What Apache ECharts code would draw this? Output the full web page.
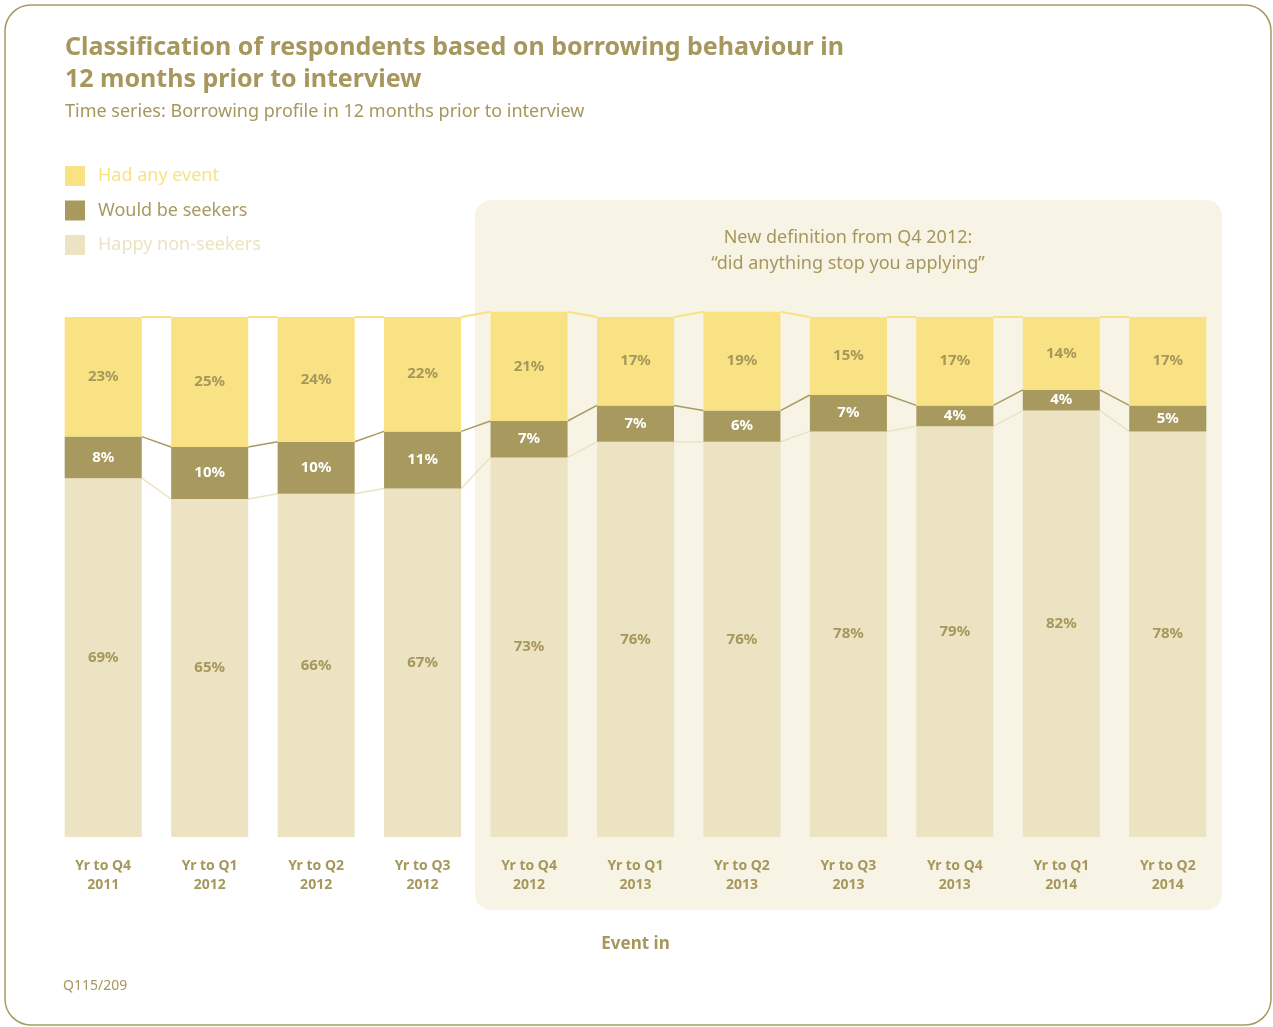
<!DOCTYPE html>
<html>
<head>
<meta charset="utf-8">
<script src="https://cdn.jsdelivr.net/npm/echarts@6/dist/echarts.min.js"></script>
<style>
html,body{margin:0;padding:0;background:#fff;}
#chart{width:1273px;height:1027px;}
</style>
</head>
<body>
<div id="chart"></div>
<script>
var categories = ['Yr to Q4\n2011','Yr to Q1\n2012','Yr to Q2\n2012','Yr to Q3\n2012','Yr to Q4\n2012','Yr to Q1\n2013','Yr to Q2\n2013','Yr to Q3\n2013','Yr to Q4\n2013','Yr to Q1\n2014','Yr to Q2\n2014'];
var happyNonSeekers = [69,65,66,67,73,76,76,78,79,82,78];
var wouldBeSeekers = [8,10,10,11,7,7,6,7,4,4,5];
var hadAnyEvent = [23,25,24,22,21,17,19,15,17,14,17];

var FONT = '"Noto Sans", "Open Sans", sans-serif';
var OLIVE = '#a89a5f';
var YELLOW = '#f9e283';
var BEIGE = '#ebe3c1';
var TEXT = '#a6975c';

var level1 = happyNonSeekers.slice();
var level2 = happyNonSeekers.map(function(v,i){return v + wouldBeSeekers[i];});
var level3 = level2.map(function(v,i){return v + hadAnyEvent[i];});

function segData(levels){
  var d = [];
  for (var i = 0; i < levels.length - 1; i++) d.push([i, levels[i], levels[i+1]]);
  return d;
}
var BAR_FRAC = 0.724;
function connector(name, levels, color, width){
  return {
    type: 'custom', name: name + ' line', z: 1, silent: true,
    data: segData(levels),
    encode: {x: 0, y: 1},
    renderItem: function(params, api){
      var i = api.value(0);
      var p1 = api.coord([i, api.value(1)]);
      var p2 = api.coord([i + 1, api.value(2)]);
      var half = api.size([1, 0])[0] * BAR_FRAC / 2;
      return {
        type: 'line',
        shape: {x1: p1[0] + half, y1: p1[1], x2: p2[0] - half, y2: p2[1]},
        style: {stroke: color, lineWidth: width, fill: null}
      };
    }
  };
}

var chart = echarts.init(document.getElementById('chart'));
var labelBase = {show: true, position: 'inside', formatter: '{c}%', fontFamily: FONT, fontWeight: 'bold', fontSize: 15};
chart.setOption({
  animation: false,
  backgroundColor: '#fff',
  title: {
    text: 'Classification of respondents based on borrowing behaviour in\n12 months prior to interview',
    subtext: 'Time series: Borrowing profile in 12 months prior to interview',
    left: 60, top: 27, itemGap: 7,
    textStyle: {fontFamily: FONT, fontWeight: 'bold', fontSize: 25, lineHeight: 32, color: TEXT},
    subtextStyle: {fontFamily: FONT, fontSize: 18, color: TEXT}
  },
  legend: {
    orient: 'vertical', left: 60, top: 161, itemWidth: 20, itemHeight: 20, itemGap: 14.5,
    icon: 'rect', selectedMode: false,
    textStyle: {fontFamily: FONT, fontSize: 18, padding: [0, 0, 0, 8]},
    data: [
      {name: 'Had any event', textStyle: {color: YELLOW}},
      {name: 'Would be seekers', textStyle: {color: OLIVE}},
      {name: 'Happy non-seekers', textStyle: {color: BEIGE}}
    ]
  },
  grid: {left: 50, right: 52, top: 291, bottom: 190, containLabel: false},
  xAxis: {
    type: 'category', data: categories,
    axisLine: {show: false}, axisTick: {show: false},
    axisLabel: {margin: 20, fontFamily: FONT, fontWeight: 'bold', fontSize: 14, lineHeight: 19, color: TEXT, interval: 0},
    name: 'Event in', nameLocation: 'middle', nameGap: 99,
    nameTextStyle: {fontFamily: FONT, fontWeight: 'bold', fontSize: 17, color: TEXT}
  },
  yAxis: {type: 'value', min: 0, max: 105, show: false, splitLine: {show: false}},
  graphic: [
    {type: 'rect', z: -10, shape: {x: 5, y: 5, width: 1266, height: 1020, r: 26}, style: {fill: '#fff', stroke: OLIVE, lineWidth: 1.5}},
    {type: 'rect', z: -5, shape: {x: 475, y: 200, width: 747, height: 710, r: 16}, style: {fill: '#f7f4e6'}},
    {type: 'text', z: 5, style: {text: 'New definition from Q4 2012:\n\u201cdid anything stop you applying\u201d', x: 848, y: 225, textAlign: 'center', fontFamily: FONT, fontSize: 18, lineHeight: 26, fill: TEXT}},
    {type: 'text', z: 5, style: {text: 'Q115/209', x: 63, y: 979, fontFamily: FONT, fontSize: 14, fill: TEXT}}
  ],
  series: [
    connector('happy', level1, BEIGE, 1.5),
    connector('seek', level2, OLIVE, 1.5),
    connector('event', level3, YELLOW, 2),
    {name: 'Happy non-seekers', type: 'bar', stack: 'a', z: 3, barWidth: '72.4%', data: happyNonSeekers,
      itemStyle: {color: BEIGE}, label: Object.assign({}, labelBase, {color: TEXT})},
    {name: 'Would be seekers', type: 'bar', stack: 'a', z: 3, data: wouldBeSeekers,
      itemStyle: {color: OLIVE}, label: Object.assign({}, labelBase, {color: '#fff'})},
    {name: 'Had any event', type: 'bar', stack: 'a', z: 3, data: hadAnyEvent,
      itemStyle: {color: YELLOW}, label: Object.assign({}, labelBase, {color: TEXT})}
  ]
});
</script>
</body>
</html>
